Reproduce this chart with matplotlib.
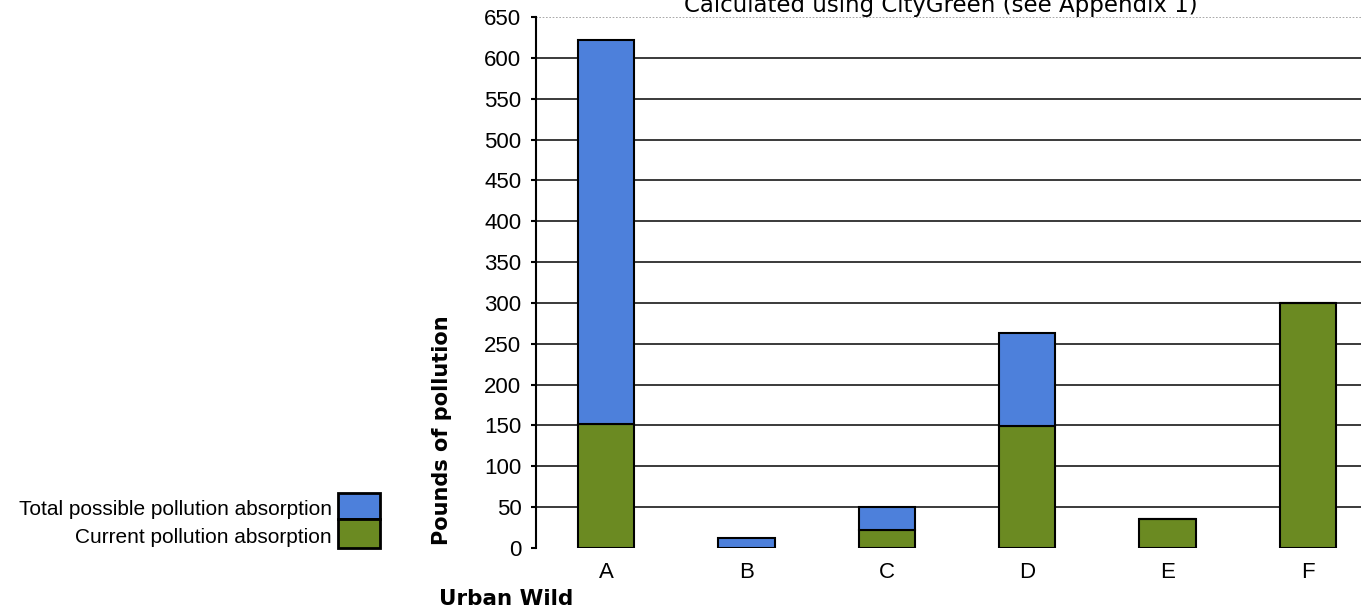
import matplotlib.pyplot as plt
from matplotlib.patches import Rectangle

# data
wilds = ['A', 'B', 'C', 'D', 'E', 'F']
total_possible = [622, 12, 50, 263, 35, 300]
current = [152, 0, 22, 149, 35, 300]
y_ticks = list(range(0, 651, 50))

BLUE = '#4d80db'
GREEN = '#6b8a22'
ARIAL = 'Liberation Sans'

fig = plt.figure(figsize=(13.61, 6.11), dpi=100)
ax = fig.add_axes([536 / 1361, 1 - 548 / 611, 842 / 1361, 531 / 611])

x = list(range(len(wilds)))
extra = [t - c for t, c in zip(total_possible, current)]
ax.bar(x, current, width=0.4, color=GREEN, edgecolor='black', linewidth=1.5, zorder=3)
ax.bar(x, extra, bottom=current, width=0.4, color=BLUE, edgecolor='black',
       linewidth=1.5, zorder=3)

ax.set_xlim(-0.5, 5.5)
ax.set_ylim(0, 650)
ax.set_yticks(y_ticks)
for v in y_ticks[1:-1]:
    ax.axhline(v, color='#2b2b2b', linewidth=1.3, zorder=1)
ax.axhline(650, color='#999999', linewidth=1.2, linestyle=(0, (1, 1)), zorder=1)

for side in ['top', 'right', 'bottom']:
    ax.spines[side].set_visible(False)
ax.spines['left'].set_linewidth(1.5)
ax.tick_params(axis='y', length=3.5, width=1.5, pad=7)
ax.tick_params(axis='x', length=0, pad=10)
ax.set_xticks(x)
ax.set_xticklabels(wilds)
for lab in ax.get_yticklabels():
    lab.set_family(ARIAL)
    lab.set_fontsize(16)
for lab in ax.get_xticklabels():
    lab.set_family(ARIAL)
    lab.set_fontsize(16)

fig.text(941 / 1361, 1 - 12 / 611, 'Calculated using CityGreen (see Appendix 1)',
         ha='center', va='baseline', fontsize=16.5, family='DejaVu Sans')
fig.text(442 / 1361, 1 - 430 / 611, 'Pounds of pollution', rotation=90,
         ha='center', va='center', fontsize=15, fontweight='bold', family='DejaVu Sans')
fig.text(439 / 1361, 1 - 605 / 611, 'Urban Wild', ha='left', va='baseline',
         fontsize=15.5, fontweight='bold', family='DejaVu Sans')

# legend drawn by hand on the left
fig.add_artist(Rectangle((338 / 1361, 1 - 519 / 611), 42 / 1361, 26 / 611,
                         transform=fig.transFigure, facecolor=BLUE,
                         edgecolor='black', linewidth=2))
fig.add_artist(Rectangle((338 / 1361, 1 - 548 / 611), 42 / 1361, 29 / 611,
                         transform=fig.transFigure, facecolor=GREEN,
                         edgecolor='black', linewidth=2))
fig.text(332 / 1361, 1 - 515 / 611, 'Total possible pollution absorption',
         ha='right', va='baseline', fontsize=15, family=ARIAL)
fig.text(332 / 1361, 1 - 543 / 611, 'Current pollution absorption',
         ha='right', va='baseline', fontsize=15, family=ARIAL)

fig.savefig('out.png', dpi=100)
